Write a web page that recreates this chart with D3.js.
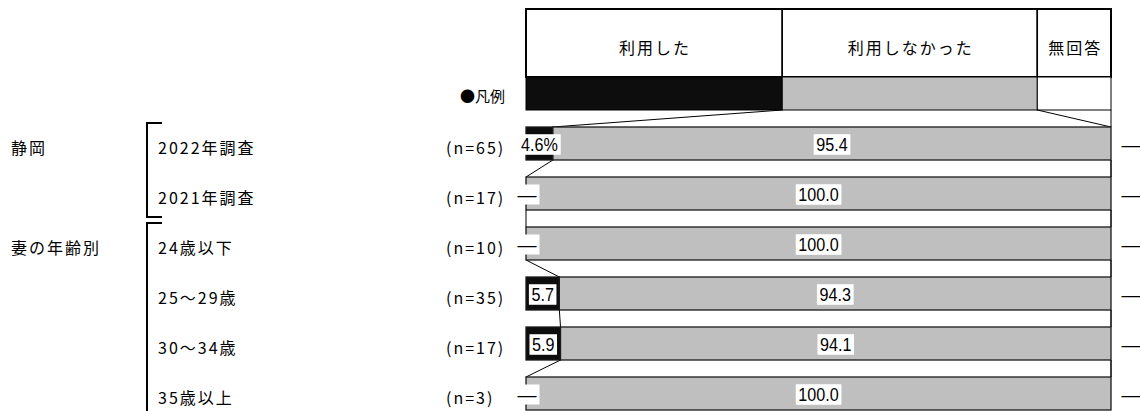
<!DOCTYPE html>
<html>
<head>
<meta charset="utf-8">
<script src="https://cdn.jsdelivr.net/npm/d3@7"></script>
<style>
  body { margin: 0; background: #fff; }
  svg { display: block; }
  .jp { font-family: "Noto Sans CJK JP", sans-serif; font-size: 16px; letter-spacing: 2px; fill: #000; }
  .num { font-family: "Liberation Sans", Arial, sans-serif; font-size: 19px; fill: #000; }
</style>
</head>
<body>
<div id="chart"></div>
<script>
// categories
var groups = ["静岡", "妻の年齢別"];
var groupRows = [[0, 1], [2, 3, 4, 5]];
var rowLabels = ["2022年調査", "2021年調査", "24歳以下", "25～29歳", "30～34歳", "35歳以上"];
var nLabels = ["(n=65)", "(n=17)", "(n=10)", "(n=35)", "(n=17)", "(n=3)"];

// series
var seriesNames = ["利用した", "利用しなかった", "無回答"];
var used = [4.6, 0, 0, 5.7, 5.9, 0];
var notUsed = [95.4, 100, 100, 94.3, 94.1, 100];
var noAnswer = [0, 0, 0, 0, 0, 0];
var legendShares = [43.8, 43.6, 12.6];

var colors = ["#0d0d0d", "#bfbfbf", "#ffffff"];

var width = 1140, height = 411;

var svg = d3.select("#chart").append("svg")
  .attr("width", width)
  .attr("height", height);

var x = d3.scaleLinear().domain([0, 100]).range([526, 1111]);
var y = d3.scaleBand().domain(d3.range(rowLabels.length))
  .range([127, 410]).paddingInner(0.34).paddingOuter(0);
var bw = y.bandwidth();

var headerTop = 9, headerBottom = 77, swatchBottom = 110;

// stack the values
var rows = rowLabels.map(function(d, i) {
  return [used[i], notUsed[i], noAnswer[i]];
});
var stacked = rows.map(function(vals) {
  var c = 0;
  return vals.map(function(v) { var s = c; c += v; return [s, c]; });
});
var legendStack = (function() {
  var c = 0;
  return legendShares.map(function(v) { var s = c; c += v; return [s, c]; });
})();

// header + legend swatches
var head = svg.append("g");
head.selectAll("rect.hd")
  .data(legendStack)
  .enter().append("rect")
  .attr("class", "hd")
  .attr("x", function(d) { return x(d[0]); })
  .attr("y", headerTop)
  .attr("width", function(d) { return x(d[1]) - x(d[0]); })
  .attr("height", headerBottom - headerTop)
  .attr("fill", "#fff")
  .attr("stroke", "#000")
  .attr("stroke-width", 1.5);
head.append("rect")
  .attr("x", x(0)).attr("y", headerTop)
  .attr("width", x(100) - x(0)).attr("height", headerBottom - headerTop)
  .attr("fill", "none").attr("stroke", "#000").attr("stroke-width", 2);
head.selectAll("text")
  .data(legendStack)
  .enter().append("text")
  .attr("class", "jp")
  .attr("x", function(d) { return (x(d[0]) + x(d[1])) / 2 + 1; })
  .attr("y", (headerTop + headerBottom) / 2 + 4)
  .attr("text-anchor", "middle")
  .attr("dominant-baseline", "central")
  .text(function(d, i) { return seriesNames[i]; });
head.selectAll("rect.sw")
  .data(legendStack)
  .enter().append("rect")
  .attr("class", "sw")
  .attr("x", function(d) { return x(d[0]); })
  .attr("y", headerBottom)
  .attr("width", function(d) { return x(d[1]) - x(d[0]); })
  .attr("height", swatchBottom - headerBottom)
  .attr("fill", function(d, i) { return colors[i]; })
  .attr("stroke", "#000")
  .attr("stroke-width", 1);

svg.append("text")
  .attr("class", "jp")
  .attr("x", 505)
  .attr("y", (headerBottom + swatchBottom) / 2 + 2)
  .attr("text-anchor", "end")
  .attr("dominant-baseline", "central")
  .style("letter-spacing", "0px")
  .style("font-size", "15px")
  .text("●凡例");

// series lines
var lines = svg.append("g").attr("stroke", "#000").attr("stroke-width", 1);
[1, 2].forEach(function(k) {
  lines.append("line")
    .attr("x1", x(legendStack[k - 1][1])).attr("y1", swatchBottom)
    .attr("x2", x(stacked[0][k - 1][1])).attr("y2", y(0));
  for (var i = 0; i < rows.length - 1; i++) {
    lines.append("line")
      .attr("x1", x(stacked[i][k - 1][1])).attr("y1", y(i) + bw)
      .attr("x2", x(stacked[i + 1][k - 1][1])).attr("y2", y(i + 1));
  }
});
lines.append("line")
  .attr("x1", x(100)).attr("y1", swatchBottom)
  .attr("x2", x(stacked[0][2][1])).attr("y2", y(0));
for (var i = 0; i < rows.length - 1; i++) {
  lines.append("line")
    .attr("x1", x(stacked[i][2][1])).attr("y1", y(i) + bw)
    .attr("x2", x(stacked[i + 1][2][1])).attr("y2", y(i + 1));
}

// bars
var bars = svg.selectAll("g.row")
  .data(stacked)
  .enter().append("g")
  .attr("class", "row")
  .attr("transform", function(d, i) { return "translate(0," + y(i) + ")"; });

bars.selectAll("rect")
  .data(function(d) { return d; })
  .enter().append("rect")
  .attr("x", function(d) { return x(d[0]); })
  .attr("y", 0)
  .attr("width", function(d) { return x(d[1]) - x(d[0]); })
  .attr("height", bw)
  .attr("fill", function(d, i) { return colors[i]; })
  .attr("stroke", "#1a1a1a")
  .attr("stroke-width", 1.3);

// data labels (narrow digits like the original)
bars.each(function(seg, ri) {
  var g = d3.select(this);
  seg.forEach(function(d, si) {
    var v = rows[ri][si];
    var lx, txt, boxed = true, sx = 0.85;
    if (si === 2 && v === 0) {
      lx = x(100) + 20; txt = "—"; boxed = false; sx = 1;
    } else if (v === 0) {
      lx = x(d[0]) + 1; txt = "—"; sx = 1;
    } else {
      lx = (x(d[0]) + x(d[1])) / 2;
      txt = v.toFixed(1) + (ri === 0 && si === 0 ? "%" : "");
    }
    var lg = g.append("g")
      .attr("transform", "translate(" + lx + "," + (bw / 2 + 1) + ") scale(" + sx + ",1)");
    var t = lg.append("text")
      .attr("class", "num")
      .attr("x", 0)
      .attr("y", 0)
      .attr("text-anchor", "middle")
      .attr("dominant-baseline", "central")
      .text(txt);
    if (boxed) {
      var bb = t.node().getBBox();
      lg.insert("rect", "text")
        .attr("x", bb.x - 3)
        .attr("y", bb.y + 0.5)
        .attr("width", bb.width + 6)
        .attr("height", bb.height - 1)
        .attr("fill", "#fff");
    }
  });
});

// row labels
svg.selectAll("text.rl")
  .data(rowLabels)
  .enter().append("text")
  .attr("class", "jp rl")
  .attr("x", 158)
  .attr("y", function(d, i) { return y(i) + bw / 2 + 3; })
  .attr("dominant-baseline", "central")
  .text(function(d) { return d; });

svg.selectAll("text.nl")
  .data(nLabels)
  .enter().append("text")
  .attr("class", "jp nl")
  .attr("x", 446)
  .attr("y", function(d, i) { return y(i) + bw / 2 + 3; })
  .attr("dominant-baseline", "central")
  .text(function(d) { return d; });

// group labels and brackets
groupRows.forEach(function(r, gi) {
  var first = r[0], last = r[r.length - 1];
  svg.append("text")
    .attr("class", "jp")
    .attr("x", 11)
    .attr("y", y(first) + bw / 2 + 3)
    .attr("dominant-baseline", "central")
    .text(groups[gi]);
  var top = y(first) - 4, bottom = y(last) + bw + 7;
  svg.append("path")
    .attr("d", "M162," + top + "H147V" + bottom + "H162")
    .attr("fill", "none")
    .attr("stroke", "#000")
    .attr("stroke-width", 2);
});
</script>
</body>
</html>
